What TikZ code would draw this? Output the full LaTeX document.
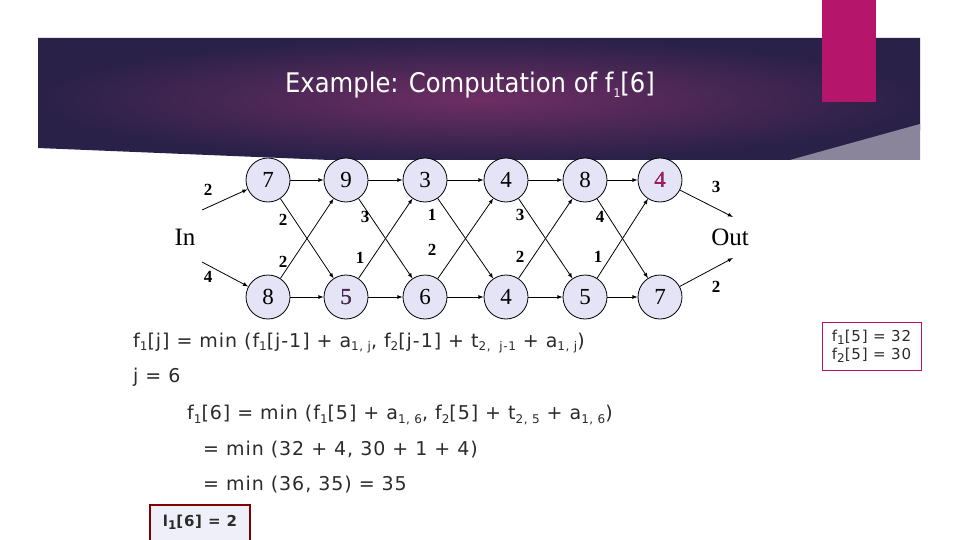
\documentclass[tikz,border=0pt]{standalone}
\usepackage{fontspec}
\setmainfont{DejaVu Sans}[LetterSpace=5]
\newfontfamily\titlef{DejaVu Sans Condensed}
\newfontfamily\serifff{Liberation Serif}
\definecolor{navy}{HTML}{2A2148}
\definecolor{plum}{HTML}{6E2E64}
\definecolor{pinkbar}{HTML}{B5156A}
\definecolor{nodefill}{HTML}{E4E4F6}
\definecolor{txt}{HTML}{2B2B2B}
\newcommand{\sbx}[1]{\raisebox{-0.35ex}{\fontsize{12}{12}\selectfont #1}}
\begin{document}
\begin{tikzpicture}[x=1pt,y=-1pt,
  st/.style={circle,draw=black,thick,fill=nodefill,minimum size=44pt,inner sep=0pt,font=\serifff\fontsize{23}{23}\selectfont},
  ed/.style={-latex,thick},
  wl/.style={font=\serifff\bfseries\fontsize{17}{17}\selectfont},
  ln/.style={anchor=west,text=txt,font=\fontsize{19}{19}\selectfont,inner sep=0pt}]
\useasboundingbox (0,0) rectangle (960,540);
\fill[white] (0,0) rectangle (960,540);
\shade[inner color=plum,outer color=navy] (38,38) -- (920,38) -- (920,130) -- (800,160) -- (330,160) -- (38,148) -- cycle;
\fill[navy!55!white] (790,160) -- (920,124) -- (920,160) -- cycle;
\fill[pinkbar] (822,0) rectangle (876,102);
\node[text=white,font=\titlef\fontsize{27}{27}\selectfont] (title) at (470,85) {Example: Computation of f\sbx{1}[6]};

\foreach \i/\x/\a/\b in {1/268/7/8,2/346/9/5,3/425/3/6,4/506/4/4,5/585/8/5,6/660/4/7}{
  \node[st] (t\i) at (\x,180) {\a};
  \node[st] (b\i) at (\x,297) {\b};
}
\node[text=pinkbar] at (t6) {\serifff\fontsize{23}{23}\selectfont 4};
\node[text=plum!60!navy] at (b2) {\serifff\fontsize{23}{23}\selectfont 5};
\node[font=\serifff\fontsize{25}{25}\selectfont] (in) at (185,237) {In};
\node[font=\serifff\fontsize{25}{25}\selectfont] (out) at (730,237) {Out};
\coordinate (ia) at (202,210); \coordinate (ib) at (202,262);
\coordinate (oa) at (733,217); \coordinate (ob) at (733,258);
\draw[ed] (ia) -- (t1); \draw[ed] (ib) -- (b1);
\draw[ed] (t6) -- (oa); \draw[ed] (b6) -- (ob);
\foreach \i/\j in {1/2,2/3,3/4,4/5,5/6}{
  \draw[ed] (t\i) -- (t\j); \draw[ed] (b\i) -- (b\j);
  \draw[ed] (t\i) -- (b\j); \draw[ed] (b\i) -- (t\j);
}
\foreach \x/\y/\w in {208/190/2,208/277/4,283/220/2,283/262/2,365/217/3,360/258/1,432/215/1,432/250/2,520/215/3,520/257/2,600/217/4,598/257/1,716/187/3,716/287/2}
  \node[wl] at (\x,\y) {\w};

\node[ln] (l1) at (133,343) {f\sbx{1}[j] = min (f\sbx{1}[j-1] + a\sbx{1, j}, f\sbx{2}[j-1] + t\sbx{2,\ \ j-1} + a\sbx{1, j})};
\node[ln] (l2) at (133,377) {j = 6};
\node[ln] (l3) at (187,415) {f\sbx{1}[6] = min (f\sbx{1}[5] + a\sbx{1, 6}, f\sbx{2}[5] + t\sbx{2, 5} + a\sbx{1, 6})};
\node[ln] (l4) at (203,450) {= min (32 + 4, 30 + 1 + 4)};
\node[ln] (l5) at (203,485) {= min (36, 35) = 35};

\draw[pinkbar] (822,322) rectangle (921,370);
\node[text=txt,font=\fontsize{15}{18}\selectfont,align=left,inner sep=0pt] (fb) at (871.5,346) {f\sbx{1}[5] = 32\\f\sbx{2}[5] = 30};
\draw[line width=2.5pt,draw=red!50!black,fill=nodefill!60!white] (150,505) rectangle (250,545);
\node[text=txt,font=\bfseries\fontsize{15}{15}\selectfont] (lb) at (200,522) {l\sbx{1}[6] = 2};
\end{tikzpicture}
\end{document}
